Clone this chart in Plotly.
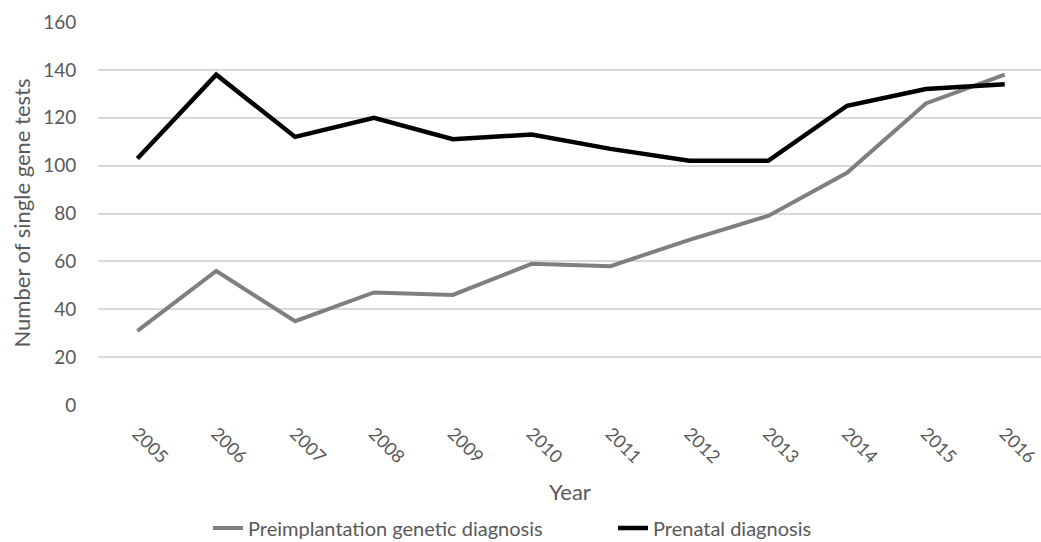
import plotly.graph_objects as go

years = ["2005", "2006", "2007", "2008", "2009", "2010", "2011", "2012", "2013", "2014", "2015", "2016"]
pgd = [31, 56, 35, 47, 46, 59, 58, 69, 79, 97, 126, 138]
prenatal = [103, 138, 112, 120, 111, 113, 107, 102, 102, 125, 132, 134]
y_ticks = [0, 20, 40, 60, 80, 100, 120, 140, 160]

FONT = "Lato"
TXT = "#595959"

fig = go.Figure()
fig.add_trace(go.Scatter(x=years, y=pgd, mode="lines", name="Preimplantation genetic diagnosis",
                         line=dict(color="#7f7f7f", width=4)))
fig.add_trace(go.Scatter(x=years, y=prenatal, mode="lines", name="Prenatal diagnosis",
                         line=dict(color="#000000", width=4.5)))

fig.update_layout(
    width=1041, height=542,
    margin=dict(l=98, r=0, t=22, b=137, autoexpand=False),
    paper_bgcolor="white", plot_bgcolor="white",
    font=dict(family=FONT, size=19, color=TXT),
    showlegend=True,
    legend=dict(orientation="h", x=(613 - 98) / 943, xanchor="center",
                y=(405 - 528) / 383, yanchor="middle",
                entrywidth=360, entrywidthmode="pixels",
                font=dict(family=FONT, size=20, color=TXT), traceorder="normal"),
    xaxis=dict(type="category", range=[-0.5, 11.46], tickangle=45,
               showgrid=False, zeroline=False, showline=False, automargin=False,
               ticks="outside", ticklen=10, tickcolor="rgba(0,0,0,0)",
               tickfont=dict(family=FONT, size=18, color=TXT)),
    yaxis=dict(range=[0, 160], tickvals=y_ticks, showgrid=True, gridcolor="#d9d9d9", gridwidth=1.5,
               zeroline=False, showline=False, automargin=False,
               ticks="outside", ticklen=17, tickcolor="rgba(0,0,0,0)",
               tickfont=dict(family=FONT, size=19, color=TXT)),
    annotations=[
        dict(text="Year", x=0.5, y=(405 - 492) / 383, xref="paper", yref="paper", showarrow=False,
             xanchor="center", yanchor="middle",
             font=dict(family=FONT, size=22, color=TXT)),
        dict(text="Number of single gene tests", x=(21 - 98) / 943, y=0.5, xref="paper", yref="paper",
             textangle=-90, showarrow=False, xanchor="center", yanchor="middle",
             font=dict(family=FONT, size=22, color=TXT)),
    ],
)

fig.write_html("out.html", config={"displayModeBar": False},
               post_script="document.body.style.margin='0';")
